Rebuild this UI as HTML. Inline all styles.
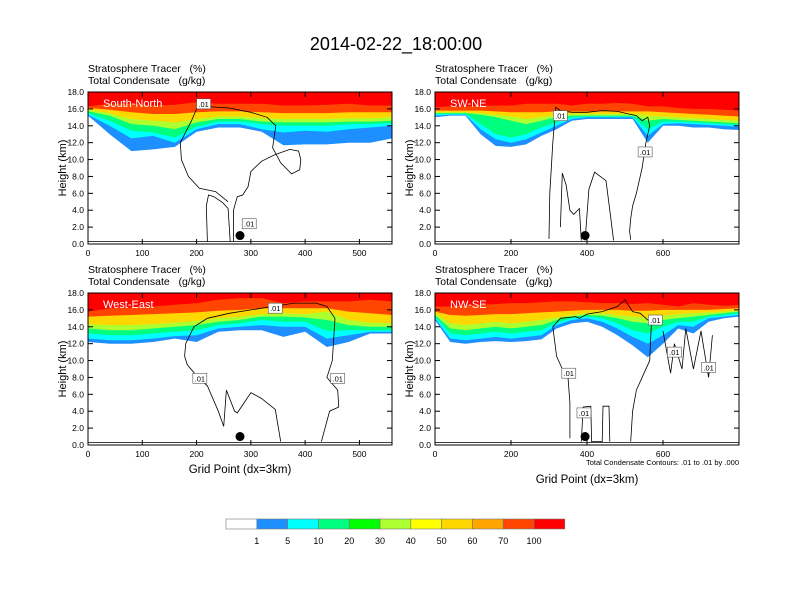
<!DOCTYPE html>
<html><head><meta charset="utf-8"><style>
html,body{margin:0;padding:0;background:#fff;}
svg{display:block;font-family:"Liberation Sans",Arial,sans-serif;}
</style></head><body>
<svg id="chart" width="792" height="612" viewBox="0 0 792 612" xmlns="http://www.w3.org/2000/svg">
<text x="396" y="50" font-size="18" text-anchor="middle">2014-02-22_18:00:00</text>
<g id="panels"></g>
<g id="colorbar"></g>
</svg>
<script>
// ---- Color levels ----
const cbLabels = ["1","5","10","20","30","40","50","60","70","100"];
const cbColors = ["#ffffff","#1e8fff","#00ffff","#00ff7f","#00ff00","#adff2f","#ffff00","#ffd700","#ffa500","#ff4500","#ff0000"];
const bandColors = ["#1e8fff","#00ffff","#00ff7f","#adff2f","#ffd700","#ff4500","#ff0000"];

// ---- Panel 1: South-North ----
const p1X = [0,40,80,120,160,200,240,280,320,360,400,440,480,520,560];
const p1Blue   = [15.2,13,11,11.2,11.5,13.3,13.8,13.8,13.3,11.7,11.8,11.8,12,12,12.5];
const p1Cyan   = [15.3,14,12.5,12.8,12,13.6,14.2,14.2,13.6,13.2,13.4,13.3,13.6,13.8,14];
const p1Spring = [15.5,14.6,13.4,13.2,12.6,13.9,14.5,14.5,14.2,14,14,14,14.2,14.2,14.3];
const p1YGreen = [15.7,15.2,14.2,14,13.6,14.4,14.8,14.8,14.5,14.4,14.4,14.4,14.5,14.5,14.6];
const p1Gold   = [15.9,15.5,14.8,14.6,14.4,14.8,15.1,15.1,14.9,14.8,14.8,14.8,14.9,14.9,15];
const p1ORed   = [16.1,15.9,15.6,15.4,15.4,15.6,15.7,15.7,15.6,15.5,15.5,15.5,15.6,15.6,15.6];
const p1Red    = [16.3,16.6,16.6,16.4,16.5,16.8,16.6,16.6,16.6,16.4,16.4,16.5,16.6,16.4,16.4];
const p1LineAX = [220,218,222,232,248,258,262];
const p1LineAH = [0.3,4.5,5.8,5.6,4.9,4.2,0.3];
const p1LineBX = [268,268,275,285,295,300,320,345,372,388,392,390,375,355,340,346,330,300,260,215,200,190,178,170,172,185,205,235,258];
const p1LineBH = [0.3,4,5.6,5.8,6.8,8.6,9.8,10.6,11.2,11,10,8.8,8.3,9.6,11.4,14,15,15.6,16.1,16.3,16,14.5,13,12,10,8,6.6,6.2,5.0];

// ---- Panel 2: SW-NE ----
const p2X = [0,40,80,120,160,200,240,280,320,360,400,440,480,520,560,600,640,680,720,760,800];
const p2Blue   = [15,15.2,15.2,13,11.6,11.5,11.8,12.8,13.6,14.6,14.8,14.8,14.8,14.8,12,14,14,13.8,13.8,13.6,13.5];
const p2Cyan   = [15.2,15.3,15.3,13.6,12.4,12,12.4,13.2,14,14.8,15,15,15,15,12.8,14.2,14.3,14.2,14.1,14,13.9];
const p2Spring = [15.4,15.4,15.4,14.2,13,12.6,13,13.8,14.4,15,15.1,15.1,15.1,15.1,13.6,14.5,14.5,14.4,14.3,14.2,14.1];
const p2YGreen = [15.5,15.5,15.5,15.3,15,14.6,14.2,14.6,15,15.2,15.2,15.2,15.2,15.2,14.6,14.8,14.7,14.6,14.5,14.4,14.3];
const p2Gold   = [15.6,15.6,15.6,15.5,15.3,15.1,14.8,15,15.3,15.4,15.4,15.4,15.4,15.4,15.2,15.1,15,14.9,14.8,14.7,14.6];
const p2ORed   = [15.8,15.8,15.8,15.8,15.7,15.6,15.6,15.6,15.7,15.7,15.7,15.7,15.7,15.7,15.7,15.6,15.5,15.4,15.3,15.2,15.1];
const p2Red    = [16.2,16.3,16.3,16.4,16.4,16.4,16.6,16.6,16.6,16.4,16.6,16.6,16.7,16.6,16.3,16.3,16.1,16,16,15.9,15.8];
const p2LineAX = [300,302,310,318,330,360,400,440,480,510,530,545,560,565,555,545,530,520,515,512,515];
const p2LineAH = [0.6,6,12,16.2,15.8,15.6,15.6,15.8,15.7,15.4,15.2,14.6,15,14,12,9,6,4.5,3,1.5,0.5];
const p2LineBX = [330,335,345,355,365,380,385];
const p2LineBH = [2,8.4,7,4,3.5,4.2,0.4];
const p2LineCX = [395,405,420,435,450,460,470];
const p2LineCH = [0.4,6.5,8.5,8,7.5,4,0.4];

// ---- Panel 3: West-East ----
const p3X = [0,40,80,120,160,200,240,280,320,360,400,440,480,520,560];
const p3Blue   = [12.2,12,12,12.2,12.6,12.2,13.4,13.6,13.6,12.8,13.4,11.6,12.2,13.2,13.2];
const p3Cyan   = [12.6,12.4,12.4,12.6,12.9,13,13.8,14,14.2,14,14,12.6,13,13.4,13.4];
const p3Spring = [13.2,13,13,13.2,13.4,13.6,14.2,14.4,14.8,14.6,14.6,13.5,13.6,13.6,13.6];
const p3YGreen = [13.8,13.6,13.6,13.8,14,14.2,14.6,14.8,15.2,15.2,15.1,14.8,14.2,14,14];
const p3Gold   = [14.3,14.2,14.2,14.3,14.5,14.7,15,15.2,15.5,15.6,15.5,15.8,14.8,14.5,14.4];
const p3ORed   = [15.2,15.3,15.4,15.5,15.6,15.7,15.9,16,16.2,16.2,16.2,16.2,15.8,15.6,15.4];
const p3Red    = [15.8,16.2,16.3,16.4,16.6,16.8,17.2,17.4,17.4,16.8,17,17,17,17.2,17];
const p3LineAX = [455,440,420,400,380,340,300,260,220,195,180,178,183,200,220,240,250,255,270,275,300,320,345,355];
const p3LineAH = [15,16.4,16.8,16.8,16.8,16.4,16,15.6,15,14,12,10.5,9.5,8.2,7,4,2.2,6.5,4,3.8,6.2,5.5,4.2,0.4];
const p3LineBX = [455,450,440,460,462,445,430];
const p3LineBH = [15,10,8,6.5,4.5,4,0.4];

// ---- Panel 4: NW-SE ----
const p4X = [0,40,80,120,160,200,240,280,320,360,400,440,480,520,560,600,640,680,720,760,800];
const p4Blue   = [14.8,12.2,12,12.2,12.3,12.2,12.3,12.5,13.8,14.4,14.6,14,13,11.8,10.4,12,13.8,13.2,14.6,15,15.2];
const p4Cyan   = [15,12.6,12.4,12.6,12.8,12.6,12.8,13,14.2,14.8,15,14.6,13.8,12.8,12,13,14.2,14,15,15.2,15.4];
const p4Spring = [15.2,13.2,13,13.2,13.4,13.2,13.4,13.6,14.5,15,15.2,15,14.4,13.6,13.2,14,14.6,14.6,15.2,15.4,15.6];
const p4YGreen = [15.4,13.8,13.6,13.8,14,13.8,14,14.2,14.8,15.2,15.4,15.3,15,14.6,14.4,14.8,15,15.2,15.4,15.6,15.8];
const p4Gold   = [15.6,14.4,14.2,14.4,14.6,14.4,14.6,14.8,15.1,15.4,15.6,15.6,15.4,15.2,15,15.3,15.5,15.6,15.7,15.8,15.9];
const p4ORed   = [15.8,15.4,15.3,15.4,15.5,15.5,15.6,15.7,15.8,15.9,16,16,16,15.9,15.9,16,16,16,16,16.1,16.2];
const p4Red    = [16.4,16.4,16.5,16.6,16.7,16.8,16.8,16.9,17,17,16.9,16.8,16.8,16.7,16.8,16.6,16.4,16.8,16.6,16.5,16.6];
const p4LineAX = [355,355,350,340,320,310,330,370,380,400,440,480,500,520,540,560,570,565,545,530,520,515];
const p4LineAH = [0.8,5,8,8.5,10.5,14,15,15.2,15,15.5,15.8,16.4,17.2,15.8,15.6,14.8,15,10,8,6.5,4,0.4];
const p4LineBX = [600,620,630,650,660,680,700,720,730];
const p4LineBH = [13.5,8.5,12,9,13.8,9,13.5,8,13];
const p4LineCX = [385,390,410,412,440,442,458,460];
const p4LineCH = [0.4,4.5,4.6,0.4,0.4,4.6,4.6,0.4];

const NS = "http://www.w3.org/2000/svg";
function mk(tag, attrs, parent){const e=document.createElementNS(NS,tag);for(const k in attrs)e.setAttribute(k,attrs[k]);if(parent)parent.appendChild(e);return e;}

const panels = [
 {id:"south-north",label:"South-North",x0:88,y0:92,w:304,h:152,xmax:560,xt:[0,100,200,300,400,500],xs:p1X,bands:[p1Blue,p1Cyan,p1Spring,p1YGreen,p1Gold,p1ORed,p1Red],lines:[[p1LineAX,p1LineAH],[p1LineBX,p1LineBH]],dot:280,xlabel:false,note:false,labs:[[213,16.6],[297,2.4]]},
 {id:"sw-ne",label:"SW-NE",x0:435,y0:92,w:304,h:152,xmax:800,xt:[0,200,400,600],xs:p2X,bands:[p2Blue,p2Cyan,p2Spring,p2YGreen,p2Gold,p2ORed,p2Red],lines:[[p2LineAX,p2LineAH],[p2LineBX,p2LineBH],[p2LineCX,p2LineCH]],dot:395,xlabel:false,note:false,labs:[[330,15.2],[553,10.9]]},
 {id:"west-east",label:"West-East",x0:88,y0:293,w:304,h:152,xmax:560,xt:[0,100,200,300,400,500],xs:p3X,bands:[p3Blue,p3Cyan,p3Spring,p3YGreen,p3Gold,p3ORed,p3Red],lines:[[p3LineAX,p3LineAH],[p3LineBX,p3LineBH]],dot:280,xlabel:true,note:false,labs:[[345,16.2],[206,7.9],[460,7.9]]},
 {id:"nw-se",label:"NW-SE",x0:435,y0:293,w:304,h:152,xmax:800,xt:[0,200,400,600],xs:p4X,bands:[p4Blue,p4Cyan,p4Spring,p4YGreen,p4Gold,p4ORed,p4Red],lines:[[p4LineAX,p4LineAH],[p4LineBX,p4LineBH],[p4LineCX,p4LineCH]],dot:395,xlabel:true,note:true,labs:[[580,14.8],[352,8.5],[630,11],[720,9.2],[392,3.8]]}
];

const root=document.getElementById("panels");
panels.forEach((p,pi)=>{
  const g=mk("g",{},root);
  
  
  const sx=v=>p.x0+v/p.xmax*p.w;
  const sy=v=>p.y0+p.h-v/18*p.h;
  const cid="clip"+pi;
  const cp=mk("clipPath",{id:cid},g); mk("rect",{x:p.x0,y:p.y0,width:p.w,height:p.h},cp);
  const t1=mk("text",{x:p.x0,y:p.y0-20,"font-size":"10.5"},g); t1.textContent="Stratosphere Tracer   (%)";
  
  
  t1.setAttribute("xml:space","preserve"); t1.style.whiteSpace="pre";
  const t2=mk("text",{x:p.x0,y:p.y0-8,"font-size":"10.5"},g); t2.textContent="Total Condensate   (g/kg)";
  
  
  t2.style.whiteSpace="pre";
  const fg=mk("g",{"clip-path":"url(#"+cid+")"},g);
  p.bands.forEach((arr,bi)=>{
    let d="M"+sx(p.xs[0])+","+sy(18);
    p.xs.forEach((x,i)=>{d+=" L"+sx(x).toFixed(1)+","+sy(arr[i]).toFixed(1);});
    d+=" L"+sx(p.xs[p.xs.length-1])+","+sy(18)+" Z";
    const b=mk("path",{d:d,fill:bandColors[bi],stroke:"none"},fg);
    
    
  });
  p.lines.forEach(([xs,hs])=>{
    const pts=xs.map((x,i)=>sx(x).toFixed(1)+","+sy(hs[i]).toFixed(1)).join(" ");
    const l=mk("polyline",{points:pts,fill:"none",stroke:"#000","stroke-width":"0.8"},fg);
    
    
  });
  mk("line",{x1:p.x0,x2:p.x0+p.w,y1:sy(0.3),y2:sy(0.3),stroke:"#000","stroke-width":"0.8"},fg);
  p.labs.forEach(([x,h])=>{
    const lg=mk("g",{},fg);
    
    
    mk("rect",{x:sx(x)-7,y:sy(h)-5,width:14,height:10,fill:"#fff",stroke:"#555","stroke-width":"0.6"},lg);
    const tt=mk("text",{x:sx(x),y:sy(h)+3,"font-size":"7.5","text-anchor":"middle"},lg); tt.textContent=".01";
  });
  const dot=mk("circle",{cx:sx(p.dot),cy:sy(1.0),r:4.5,fill:"#000"},g);
  
  
  const pl=mk("text",{x:p.x0+15,y:p.y0+15,"font-size":"11",fill:"#fff"},g); pl.textContent=p.label;
  
  
  const fr=mk("rect",{x:p.x0,y:p.y0,width:p.w,height:p.h,fill:"none",stroke:"#000","stroke-width":"1"},g);
  
  
  for(let v=0;v<=18;v+=2){
    const y=sy(v);
    mk("line",{x1:p.x0,x2:p.x0+5,y1:y,y2:y,stroke:"#000"},g);
    mk("line",{x1:p.x0+p.w,x2:p.x0+p.w-5,y1:y,y2:y,stroke:"#000"},g);
    const tl=mk("text",{x:p.x0-4,y:y+3,"font-size":"8.5","text-anchor":"end"},g); tl.textContent=v.toFixed(1);
    
    
  }
  p.xt.forEach(v=>{
    const x=sx(v);
    mk("line",{x1:x,x2:x,y1:p.y0+p.h,y2:p.y0+p.h-5,stroke:"#000"},g);
    mk("line",{x1:x,x2:x,y1:p.y0,y2:p.y0+5,stroke:"#000"},g);
    const tl=mk("text",{x:x,y:p.y0+p.h+12,"font-size":"8.5","text-anchor":"middle"},g); tl.textContent=v;
    
    
  });
  const yl=mk("text",{x:0,y:0,"font-size":"11","text-anchor":"middle",transform:"translate("+(p.x0-22)+","+(p.y0+p.h/2)+") rotate(-90)"},g); yl.textContent="Height (km)";
  
  
  if(p.note){
    const nt=mk("text",{x:p.x0+p.w,y:p.y0+p.h+20,"font-size":"7.5","text-anchor":"end"},g); nt.textContent="Total Condensate Contours: .01 to .01 by .000";
    
    
  }
  if(p.xlabel){
    const xl=mk("text",{x:p.x0+p.w/2,y:p.note?p.y0+p.h+38:p.y0+p.h+28,"font-size":"11.5","text-anchor":"middle"},g); xl.textContent="Grid Point (dx=3km)";
    
    
  }
});

// colorbar
const cb=document.getElementById("colorbar");
const cbx=226, cby=519, cbw=30.8, cbh=10;
cbColors.forEach((c,i)=>{
  const r=mk("rect",{x:cbx+i*cbw,y:cby,width:cbw,height:cbh,fill:c,stroke:"#777","stroke-width":"0.6"},cb);
  
  
});
cbLabels.forEach((l,i)=>{
  const t=mk("text",{x:cbx+(i+1)*cbw,y:cby+25,"font-size":"9","text-anchor":"middle"},cb); t.textContent=l;
  
  
});
</script>
</body></html>
